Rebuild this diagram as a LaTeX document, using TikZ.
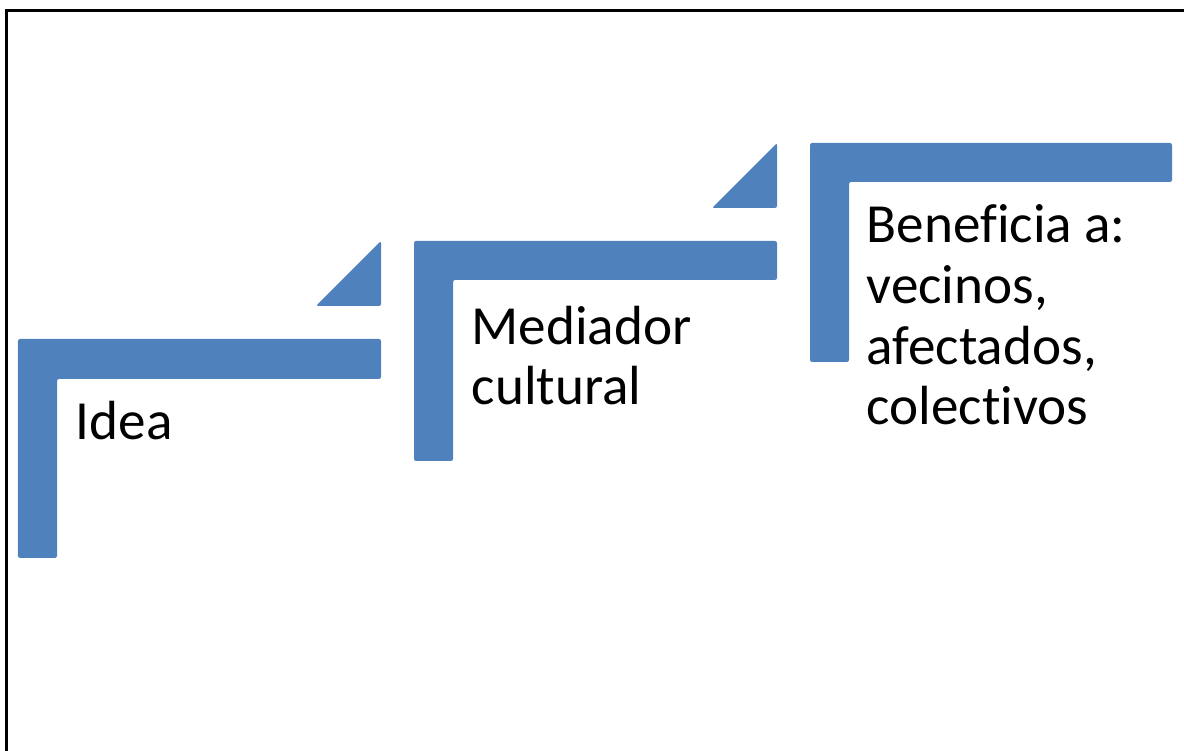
\documentclass[tikz,border=0pt]{standalone}
\usepackage{fontspec}
\setmainfont{Carlito}[Ligatures=NoCommon]
\definecolor{stepblue}{RGB}{79,129,189}

\begin{document}
\begin{tikzpicture}[
    stepbar/.style={fill=stepblue, draw=none, rounded corners=0.6pt},
    steptext/.style={anchor=base west, align=left, inner sep=0pt, font=\fontsize{15.7pt}{17.3pt}\selectfont},
    frameline/.style={line width=0.85pt, black}
]
\useasboundingbox (0,0) rectangle (11.84,7.51);

% Frame (only left and top edges are visible)
\coordinate (framebl) at (0.065,0);
\coordinate (frametl) at (0.065,7.40);
\coordinate (frametr) at (11.84,7.40);
\draw[frameline] (framebl) -- (frametl) -- (frametr);

% Step 1
\fill[stepbar] (0.18,4.12) -- (3.81,4.12) -- (3.81,3.72) -- (0.57,3.72) -- (0.57,1.93) -- (0.18,1.93) -- cycle;
\fill[stepbar] (3.16,4.45) -- (3.81,4.45) -- (3.81,5.10) -- cycle;

% Step 2
\fill[stepbar] (4.14,5.10) -- (7.77,5.10) -- (7.77,4.71) -- (4.53,4.71) -- (4.53,2.90) -- (4.14,2.90) -- cycle;
\fill[stepbar] (7.12,5.43) -- (7.77,5.43) -- (7.77,6.08) -- cycle;

% Step 3
\fill[stepbar] (8.10,6.08) -- (11.72,6.08) -- (11.72,5.69) -- (8.49,5.69) -- (8.49,3.89) -- (8.10,3.89) -- cycle;

% Labels (base = last line)
\node[steptext] (idea) at (0.75,3.11) {Idea};
\node[steptext] (mediador) at (4.71,3.46) {Mediador\\cultural};
\node[steptext] (beneficia) at (8.66,3.26) {Beneficia a:\\vecinos,\\afectados,\\colectivos};
\end{tikzpicture}
\end{document}
